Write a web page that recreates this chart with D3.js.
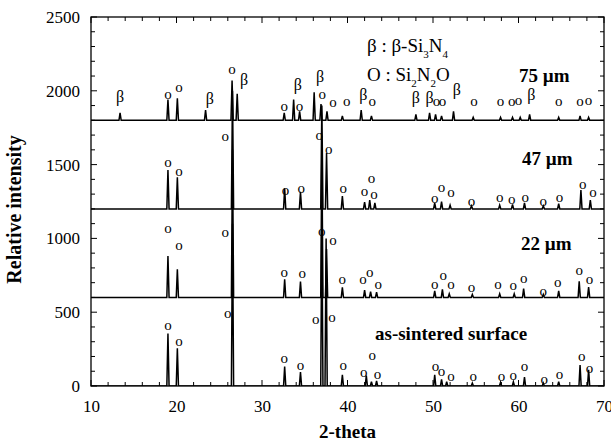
<!DOCTYPE html>
<html>
<head>
<meta charset="utf-8">
<script src="https://cdnjs.cloudflare.com/ajax/libs/d3/7.8.5/d3.min.js"></script>
<style>
  body { margin: 0; background: #fff; }
  text { font-family: "Liberation Serif", "Times New Roman", serif; fill: #000; }
</style>
</head>
<body>
<div id="chart"></div>
<script>
// peak lists: [2-theta, height above the pattern's baseline]
var peaksSintered = [[19.0, 356], [20.1, 255], [26.55, 1100], [32.65, 131], [34.5, 95], [37.0, 1150], [37.5, 1000],
  [39.4, 76], [42.2, 70], [42.8, 30], [43.4, 35], [50.2, 76], [51.0, 45], [51.6, 30], [54.6, 20], [57.9, 25],
  [59.4, 28], [60.7, 60], [62.9, 20], [64.7, 30], [67.2, 142], [68.2, 110]];
var peaks22 = [[19.0, 281], [20.1, 190], [26.55, 1000], [32.65, 123], [34.5, 107], [37.0, 1000], [37.55, 328],
  [39.4, 68], [42.0, 50], [42.7, 40], [43.4, 35], [50.2, 45], [51.1, 55], [51.9, 25], [54.6, 20], [57.8, 25],
  [59.5, 25], [60.6, 60], [62.9, 20], [64.7, 45], [67.1, 110], [68.2, 70]];
var peaks47 = [[19.0, 263], [20.1, 214], [26.55, 800], [32.65, 140], [34.5, 116], [37.0, 700], [37.55, 378],
  [39.4, 87], [42.0, 45], [42.6, 60], [43.2, 40], [50.2, 40], [51.0, 50], [52.0, 25], [54.5, 20], [57.8, 25],
  [59.3, 30], [60.7, 40], [62.9, 20], [64.7, 35], [67.3, 128], [68.4, 60]];
var peaks75 = [[13.4, 50], [19.0, 140], [20.1, 150], [23.4, 70], [26.5, 270], [27.1, 180], [32.6, 50], [33.7, 140],
  [34.4, 60], [36.1, 190], [36.9, 110], [37.6, 60], [39.4, 30], [41.6, 70], [42.8, 30], [48.0, 40], [49.6, 50],
  [50.3, 40], [51.0, 30], [52.4, 60], [54.7, 20], [57.9, 20], [59.3, 20], [60.2, 20], [61.3, 40], [64.7, 20],
  [67.2, 30], [68.2, 20]];
var baselines = [0, 600, 1200, 1800];
var patternNames = ["as-sintered surface", "22 \u00b5m", "47 \u00b5m", "75 \u00b5m"];

// phase labels: [2-theta, intensity, symbol]
var labelsSintered = [[19.0, 410, "o"], [20.3, 300, "o"], [26.0, 494, "o"], [32.6, 185, "o"], [34.5, 140, "o"],
  [36.3, 453, "o"], [38.2, 465, "o"], [39.5, 140, "o"], [41.9, 90, "o"], [42.9, 205, "o"], [43.5, 75, "o"],
  [50.3, 130, "o"], [51.0, 100, "o"], [52.1, 65, "o"], [54.7, 65, "o"], [58.0, 65, "o"], [59.4, 70, "o"],
  [60.7, 130, "o"], [63.0, 45, "o"], [64.8, 75, "o"], [67.4, 200, "o"], [68.3, 120, "o"]];
var labels22 = [[19.0, 1070, "o"], [20.3, 955, "o"], [25.7, 1037, "o"], [32.6, 770, "o"], [34.7, 765, "o"],
  [37.0, 1045, "o"], [38.3, 989, "o"], [39.4, 720, "o"], [41.8, 720, "o"], [42.6, 770, "o"], [43.6, 690, "o"],
  [50.2, 690, "o"], [51.2, 750, "o"], [52.1, 690, "o"], [54.5, 665, "o"], [57.6, 690, "o"], [59.4, 680, "o"],
  [60.6, 730, "o"], [62.9, 640, "o"], [64.6, 700, "o"], [67.1, 780, "o"], [68.3, 720, "o"]];
var labels47 = [[19.0, 1515, "o"], [20.3, 1455, "o"], [25.7, 1690, "o"], [32.75, 1325, "o"], [34.6, 1340, "o"],
  [36.7, 1700, "o"], [37.8, 1605, "o"], [39.5, 1340, "o"], [42.0, 1315, "o"], [42.8, 1405, "o"], [43.1, 1295, "o"],
  [50.2, 1270, "o"], [51.0, 1345, "o"], [52.1, 1310, "o"], [54.5, 1250, "o"], [57.8, 1280, "o"], [59.2, 1265, "o"],
  [60.8, 1280, "o"], [62.9, 1250, "o"], [64.8, 1275, "o"], [67.5, 1365, "o"], [68.7, 1310, "o"]];
var labels75 = [[13.4, 1960, "\u03b2"], [19.0, 1972, "o"], [20.3, 2024, "o"], [23.9, 1944, "\u03b2"], [26.5, 2141, "o"],
  [27.9, 2073, "\u03b2"], [32.6, 1897, "o"], [34.2, 2039, "\u03b2"], [34.4, 1897, "o"], [36.8, 2095, "\u03b2"],
  [37.05, 1975, "o"], [38.3, 1920, "o"], [39.9, 1926, "o"], [41.85, 1972, "\u03b2"], [42.9, 1926, "o"],
  [48.0, 1950, "\u03b2"], [49.6, 1950, "\u03b2"], [50.4, 1926, "o"], [51.1, 1926, "o"], [52.8, 2005, "\u03b2"],
  [54.8, 1926, "o"], [57.9, 1926, "o"], [59.2, 1926, "o"], [60.0, 1935, "o"], [61.5, 1972, "\u03b2"],
  [64.7, 1926, "o"], [67.2, 1926, "o"], [68.2, 1935, "o"]];

var xTicks = [10, 20, 30, 40, 50, 60, 70];
var yTicks = [0, 500, 1000, 1500, 2000, 2500];

var W = 611, H = 444,
    mleft = 91, mtop = 17, mright = 7, mbottom = 58;
var w = W - mleft - mright, h = H - mtop - mbottom;
var serif = "'Liberation Serif', 'Times New Roman', serif";

var svg = d3.select("#chart").append("svg")
    .attr("width", W).attr("height", H)
  .append("g")
    .attr("transform", "translate(" + mleft + "," + mtop + ")");

var x = d3.scaleLinear().domain([10, 70]).range([0, w]);
var y = d3.scaleLinear().domain([0, 2500]).range([h, 0]);

// small ticks, pointing inward on all four sides
var minorX = d3.range(10, 70.01, 2), minorY = d3.range(0, 2500.1, 100);
var tk = svg.append("g").attr("stroke", "#000").attr("stroke-width", 1);
minorX.forEach(function(v){
  var len = (v % 10 === 0) ? 6 : 4;
  tk.append("line").attr("x1", x(v)).attr("x2", x(v)).attr("y1", h).attr("y2", h - len);
  tk.append("line").attr("x1", x(v)).attr("x2", x(v)).attr("y1", 0).attr("y2", len);
});
minorY.forEach(function(v){
  var len = (v % 500 === 0) ? 6 : 4;
  tk.append("line").attr("x1", 0).attr("x2", len).attr("y1", y(v)).attr("y2", y(v));
  tk.append("line").attr("x1", w).attr("x2", w - len).attr("y1", y(v)).attr("y2", y(v));
});

var xAxis = d3.axisBottom(x).tickValues(xTicks).tickSize(0).tickPadding(14).tickFormat(d3.format("d"));
svg.append("g").attr("transform", "translate(0," + h + ")").call(xAxis)
  .attr("font-family", serif).attr("font-size", 17)
  .call(function(g){ g.select(".domain").remove(); });

var yAxis = d3.axisLeft(y).tickValues(yTicks).tickSize(0).tickPadding(11).tickFormat(d3.format("d"));
svg.append("g").call(yAxis)
  .attr("font-family", serif).attr("font-size", 17)
  .call(function(g){ g.select(".domain").remove(); });

// patterns
var line = d3.line().x(function(d){ return x(d[0]); }).y(function(d){ return y(d[1]); });
var half = 0.13;
function profile(peaks, base) {
  var pts = [[10, base]];
  peaks.forEach(function(p){
    pts.push([p[0] - half, base], [p[0], base + p[1]], [p[0] + half, base]);
  });
  pts.push([70, base]);
  return pts;
}
svg.append("clipPath").attr("id", "clip").append("rect").attr("width", w).attr("height", h);
[peaksSintered, peaks22, peaks47, peaks75].forEach(function(pk, i){
  svg.append("path")
    .attr("clip-path", "url(#clip)")
    .attr("d", line(profile(pk, baselines[i])))
    .attr("fill", "none").attr("stroke", "#000").attr("stroke-width", 1.5);
});

// phase labels
[labelsSintered, labels22, labels47, labels75].forEach(function(lb){
  svg.append("g").selectAll("text").data(lb).enter().append("text")
    .attr("x", function(d){ return x(d[0]); })
    .attr("y", function(d){ return y(d[1]); })
    .attr("dy", "0.3em")
    .attr("text-anchor", "middle")
    .style("font-size", function(d){ return d[2] === "o" ? "15px" : "16px"; })
    .text(function(d){ return d[2]; });
});

// frame
svg.append("rect").attr("width", w).attr("height", h)
  .attr("fill", "none").attr("stroke", "#000").attr("stroke-width", 1.3);

// pattern names
var nameX = [375 - mleft, 521 - mleft, 522 - mleft, 519 - mleft];
var nameY = [340, 250, 165, 82];
patternNames.forEach(function(n, i){
  svg.append("text").attr("x", nameX[i]).attr("y", nameY[i] - mtop)
    .style("font-size", "19px").style("font-weight", "bold").text(n);
});

// legend
var lg = svg.append("g").style("font-size", "19px");
var t1 = lg.append("text").attr("x", 367 - mleft).attr("y", 52 - mtop);
t1.append("tspan").text("\u03b2 : \u03b2-Si");
t1.append("tspan").attr("baseline-shift", "sub").style("font-size", "11px").text("3");
t1.append("tspan").text("N");
t1.append("tspan").attr("baseline-shift", "sub").style("font-size", "11px").text("4");
var t2 = lg.append("text").attr("x", 367 - mleft).attr("y", 81 - mtop);
t2.append("tspan").text("O : Si");
t2.append("tspan").attr("baseline-shift", "sub").style("font-size", "11px").text("2");
t2.append("tspan").text("N");
t2.append("tspan").attr("baseline-shift", "sub").style("font-size", "11px").text("2");
t2.append("tspan").text("O");

// axis titles
svg.append("text").attr("x", w / 2).attr("y", h + 52)
  .attr("text-anchor", "middle").style("font-size", "19px").style("font-weight", "bold").text("2-theta");
svg.append("text").attr("transform", "translate(" + (-70) + "," + (h / 2 + 8) + ") rotate(-90)")
  .attr("text-anchor", "middle").style("font-size", "20px").style("font-weight", "bold").text("Relative intensity");
</script>
</body>
</html>
